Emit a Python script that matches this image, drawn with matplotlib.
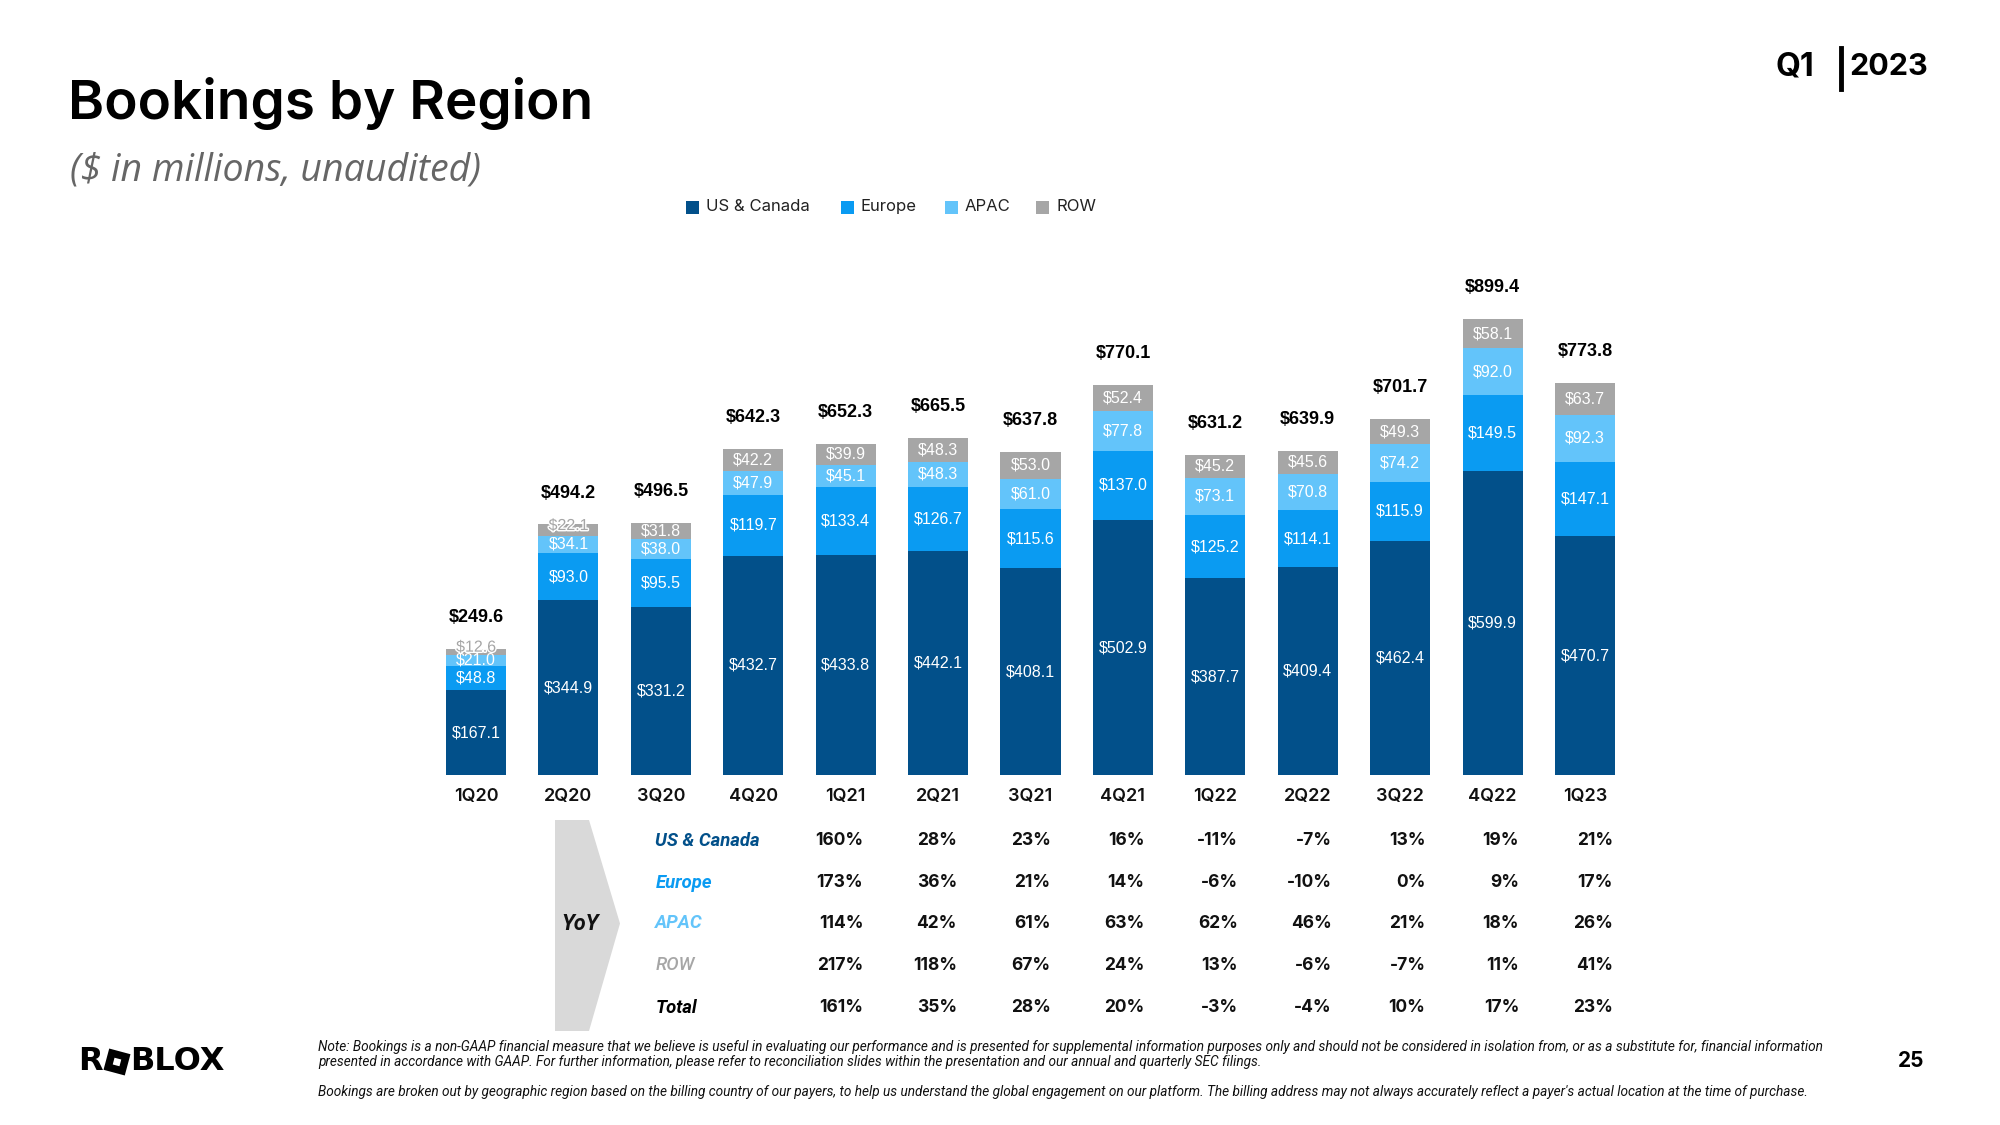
import numpy as np
import matplotlib.pyplot as plt
import matplotlib.patheffects as pe
from matplotlib.patches import Polygon, Rectangle
from matplotlib.transforms import blended_transform_factory, Affine2D

plt.rcParams['font.family'] = ['Inter', 'DejaVu Sans']

# data
quarters = ['1Q20', '2Q20', '3Q20', '4Q20', '1Q21', '2Q21', '3Q21', '4Q21',
            '1Q22', '2Q22', '3Q22', '4Q22', '1Q23']
us_canada = [167.1, 344.9, 331.2, 432.7, 433.8, 442.1, 408.1, 502.9, 387.7, 409.4, 462.4, 599.9, 470.7]
europe = [48.8, 93.0, 95.5, 119.7, 133.4, 126.7, 115.6, 137.0, 125.2, 114.1, 115.9, 149.5, 147.1]
apac = [21.0, 34.1, 38.0, 47.9, 45.1, 48.3, 61.0, 77.8, 73.1, 70.8, 74.2, 92.0, 92.3]
row = [12.6, 22.1, 31.8, 42.2, 39.9, 48.3, 53.0, 52.4, 45.2, 45.6, 49.3, 58.1, 63.7]
totals = [249.6, 494.2, 496.5, 642.3, 652.3, 665.5, 637.8, 770.1, 631.2, 639.9, 701.7, 899.4, 773.8]

# YoY growth, starting at 1Q21
yoy_quarters = quarters[4:]
yoy_us = ['160%', '28%', '23%', '16%', '-11%', '-7%', '13%', '19%', '21%']
yoy_europe = ['173%', '36%', '21%', '14%', '-6%', '-10%', '0%', '9%', '17%']
yoy_apac = ['114%', '42%', '61%', '63%', '62%', '46%', '21%', '18%', '26%']
yoy_row = ['217%', '118%', '67%', '24%', '13%', '-6%', '-7%', '11%', '41%']
yoy_total = ['161%', '35%', '28%', '20%', '-3%', '-4%', '10%', '17%', '23%']

series_names = ['US & Canada', 'Europe', 'APAC', 'ROW']
colors = ['#02508A', '#0A9BF2', '#63C4FA', '#A6A6A6']

W, H = 2000, 1125
fig = plt.figure(figsize=(20, 11.25), dpi=100)

def fy(py):
    return 1 - py / H

ax = fig.add_axes([420.6 / W, fy(775), 1219.8 / W, 507 / H])
ax.set_xlim(-0.6, 12.6)
ax.set_ylim(0, 1000)
ax.axis('off')

x = np.arange(len(quarters))
bottom = np.zeros(len(quarters))
for vals, name, c in zip([us_canada, europe, apac, row], series_names, colors):
    vals = np.array(vals)
    ax.bar(x, vals, 0.65, bottom=bottom, color=c, label=name, linewidth=0)
    for i, v in enumerate(vals):
        yc = bottom[i] + v / 2
        if name == 'ROW' and v < 25:
            ax.text(i, yc + 9, f'${v:.1f}', ha='center', va='center', fontsize=11.5,
                    family='Liberation Sans', color='#a6a6a6',
                    path_effects=[pe.withStroke(linewidth=2, foreground='white')])
        else:
            ax.text(i, yc, f'${v:.1f}', ha='center', va='center', fontsize=11.5,
                    family='Liberation Sans', color='white')
    bottom += vals

for i, t in enumerate(totals):
    ax.text(i, t + 62, f'${t:.1f}', ha='center', va='center', fontsize=13,
            family='Liberation Sans', fontweight='bold', color='black')

bt = blended_transform_factory(ax.transData, fig.transFigure)
for i, q in enumerate(quarters):
    ax.text(i, fy(797), q, transform=bt, ha='center', va='center',
            fontsize=13, fontweight='semibold', color='#111111')

# YoY table
row_ys = [840.5, 882.6, 923.5, 965.5, 1007.6]
row_labels = ['US & Canada', 'Europe', 'APAC', 'ROW', 'Total']
row_colors = ['#02508A', '#0A9BF2', '#63C4FA', '#A6A6A6', 'black']
row_weights = ['bold', 'bold', 'bold', 'medium', 'bold']
row_vals = [yoy_us, yoy_europe, yoy_apac, yoy_row, yoy_total]
for ry, lab, c, w, vals in zip(row_ys, row_labels, row_colors, row_weights, row_vals):
    ax.text(1.94, fy(ry), lab, transform=bt, ha='left', va='center', fontsize=13.3,
            fontstyle='italic', fontweight=w, color=c, family='Roboto')
    for j, v in enumerate(vals):
        ax.text(4.19 + j * 1.014, fy(ry), v, transform=bt, ha='right', va='center',
                fontsize=12.5, fontweight='bold', color='#111111')

chev = Polygon([(555 / W, fy(820)), (589 / W, fy(820)), (620 / W, fy(923.5)),
                (589 / W, fy(1031)), (555 / W, fy(1031))], closed=True,
               transform=fig.transFigure, facecolor='#D9D9D9', edgecolor='none')
fig.patches.append(chev)
fig.text(580 / W, fy(924), 'YoY', ha='center', va='center', fontsize=15.5,
         fontweight='bold', fontstyle='italic', family='Roboto', color='#111111')

# legend, drawn entry by entry
legend_x = [686, 841, 945, 1036]
for lx, name, c in zip(legend_x, series_names, colors):
    fig.patches.append(Rectangle((lx / W, fy(214)), 13 / W, 13 / H, facecolor=c,
                                 edgecolor='none', transform=fig.transFigure))
    fig.text((lx + 20) / W, fy(207), name, ha='left', va='center', fontsize=12,
             color='#222222')

# titles
fig.text(68 / W, fy(104), 'Bookings by Region', ha='left', va='center',
         fontsize=39.5, fontweight='semibold', color='black')
fig.text(70 / W, fy(170), '($ in millions, unaudited)', ha='left', va='center',
         fontsize=27, fontstyle='italic', family='Open Sans', color='#666666')

fig.text(1795 / W, fy(67), 'Q1', ha='center', va='center', fontsize=23,
         fontweight='bold', color='black')
fig.add_artist(plt.Line2D([1841 / W, 1841 / W], [fy(48), fy(89)],
                          transform=fig.transFigure, color='black', lw=3.5))
fig.text(1889 / W, fy(67), '2023', ha='center', va='center', fontsize=22,
         fontweight='bold', color='black')

# footer
note1 = ('Note: Bookings is a non-GAAP financial measure that we believe is useful in evaluating our '
         'performance and is presented for supplemental information purposes only and should not be '
         'considered in isolation from, or as a substitute for, financial information')
note2 = ('presented in accordance with GAAP. For further information, please refer to reconciliation '
         'slides within the presentation and our annual and quarterly SEC filings.')
note3 = ('Bookings are broken out by geographic region based on the billing country of our payers, to '
         'help us understand the global engagement on our platform. The billing address may not always '
         "accurately reflect a payer's actual location at the time of purchase.")
for txt, py in [(note1, 1047), (note2, 1062), (note3, 1092)]:
    fig.text(318 / W, fy(py), txt, ha='left', va='center', fontsize=9.85,
             fontstyle='italic', family='Roboto', color='#111111')

# logo
fig.text(78 / W, fy(1062), 'R', ha='left', va='center', fontsize=23,
         fontweight='bold', family='DejaVu Sans', color='black')
tr = Affine2D().rotate_deg(-15) + Affine2D().translate(117, H - 1062)
fig.add_artist(Rectangle((-11, -11), 22, 22, facecolor='black', edgecolor='none', transform=tr))
fig.add_artist(Rectangle((-3.5, -3.5), 7, 7, facecolor='white', edgecolor='none', transform=tr))
fig.text(130 / W, fy(1062), 'BLOX', ha='left', va='center', fontsize=23,
         fontweight='bold', family='DejaVu Sans', color='black')

fig.text(1911 / W, fy(1061), '25', ha='center', va='center', fontsize=15,
         fontweight='bold', color='black')

fig.savefig('out.png', dpi=100, facecolor='white')
